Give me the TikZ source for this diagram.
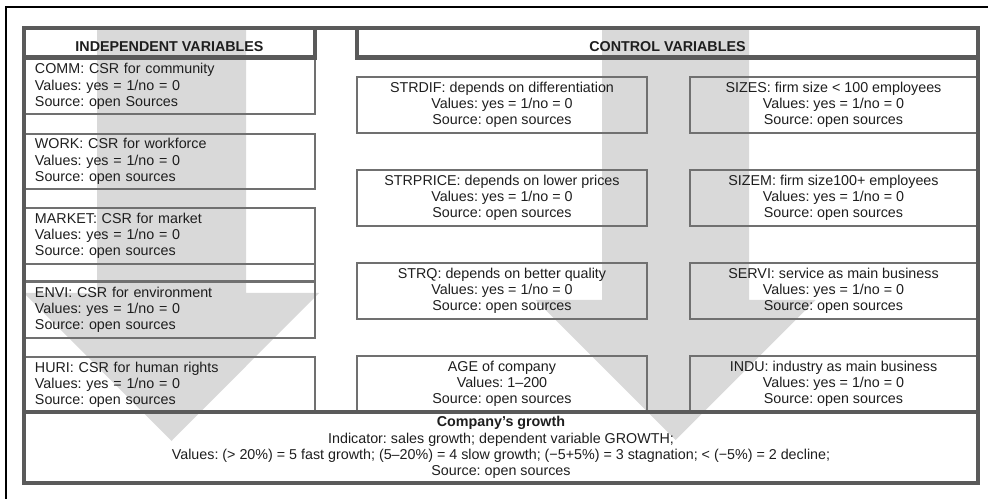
\documentclass[tikz,border=0pt]{standalone}
\usepackage{fontspec}
\setmainfont{Liberation Sans}
\frenchspacing
\definecolor{arrowgray}{HTML}{D9D9D9}
\definecolor{thingray}{HTML}{707070}
\definecolor{thickgray}{HTML}{5A5A5A}
\definecolor{txt}{HTML}{1E1E1E}
\begin{document}
\begin{tikzpicture}[x=1bp,y=-1bp,
  font=\fontsize{14.3bp}{16.3bp}\selectfont,
  arrowfill/.style={fill=arrowgray, draw=none},
  thinline/.style={draw=thingray, line width=1.6bp},
  thickline/.style={draw=thickgray, line width=4.5bp, line join=miter},
  cell/.style={thinline, inner sep=0pt, text=txt, rectangle},
  leftcell/.style={cell, align=left, minimum width=291bp, text width=269bp},
  midcell/.style={cell, align=center, minimum width=290bp},
  rightcell/.style={cell, align=center, minimum width=287bp},
  headtext/.style={text=txt, font=\fontsize{14.3bp}{16.3bp}\selectfont\bfseries, inner sep=0pt}
]
\useasboundingbox (0,0) rectangle (988,499);
% outer frame
\draw[black, line width=1.2bp] (6,499) -- (6,7) -- (988,7);

% big gray arrows
\fill[arrowfill] (97,28) -- (246,28) -- (246,293) -- (319,293) -- (171.5,441) -- (24,293) -- (97,293) -- cycle;
\fill[arrowfill] (602,28) -- (749,28) -- (749,300) -- (815.5,300) -- (675.5,440) -- (535.5,300) -- (602,300) -- cycle;

% left column
\node[leftcell, minimum height=55bp] (comm) at (169.5,86.5) {COMM: CSR for community\\Values: yes = 1/no = 0\\Source: open Sources};
\node[leftcell, minimum height=55bp] (work) at (169.5,161.5) {WORK: CSR for workforce\\Values: yes = 1/no = 0\\Source: open sources};
\node[leftcell, minimum height=56bp] (market) at (169.5,236) {MARKET: CSR for market\\Values: yes = 1/no = 0\\Source: open sources};
\draw[thinline] (24,264) rectangle (315,281);
\node[leftcell, minimum height=56bp] (envi) at (169.5,310) {ENVI: CSR for environment\\Values: yes = 1/no = 0\\Source: open sources};
\node[leftcell, minimum height=56bp] (huri) at (169.5,385) {HURI: CSR for human rights\\Values: yes = 1/no = 0\\Source: open sources};

% middle column
\node[midcell, minimum height=56bp] (strdif) at (502,105) {STRDIF: depends on differentiation\\Values: yes = 1/no = 0\\Source: open sources};
\node[midcell, minimum height=56bp] (strprice) at (502,198) {STRPRICE: depends on lower prices\\Values: yes = 1/no = 0\\Source: open sources};
\node[midcell, minimum height=56bp] (strq) at (502,291) {STRQ: depends on better quality\\Values: yes = 1/no = 0\\Source: open sources};
\node[midcell, minimum height=56bp] (age) at (502,384) {AGE of company\\Values: 1–200\\Source: open sources};

% right column
\node[rightcell, minimum height=56bp] (sizes) at (833.5,105) {SIZES: firm size < 100 employees\\Values: yes = 1/no = 0\\Source: open sources};
\node[rightcell, minimum height=56bp] (sizem) at (833.5,198) {SIZEM: firm size100+ employees\\Values: yes = 1/no = 0\\Source: open sources};
\node[rightcell, minimum height=56bp] (servi) at (833.5,291) {SERVI: service as main business\\Values: yes = 1/no = 0\\Source: open sources};
\node[rightcell, minimum height=56bp] (indu) at (833.5,384) {INDU: industry as main business\\Values: yes = 1/no = 0\\Source: open sources};

% thick frame and headers
\draw[thickline] (24,28) rectangle (315,57.5);
\draw[thickline] (357,28) rectangle (978,57.5);
\draw[thickline] (315,28) -- (357,28);
\draw[thickline] (24,57.5) -- (24,412);
\draw[thickline] (978,57.5) -- (978,412);
\node[headtext] (indep) at (169.5,47) {INDEPENDENT VARIABLES};
\node[headtext] (control) at (667.5,47) {CONTROL VARIABLES};

% bottom box
\node[thickline, rectangle, minimum width=954bp, minimum height=71bp, inner sep=0pt, align=center, text=txt] (growth) at (501,447.5)
  {\textbf{Company’s growth}\\Indicator: sales growth; dependent variable GROWTH;\\Values: (> 20\%) = 5 fast growth; (5–20\%) = 4 slow growth; (−5+5\%) = 3 stagnation; < (−5\%) = 2 decline;\\Source: open sources};
\end{tikzpicture}
\end{document}
